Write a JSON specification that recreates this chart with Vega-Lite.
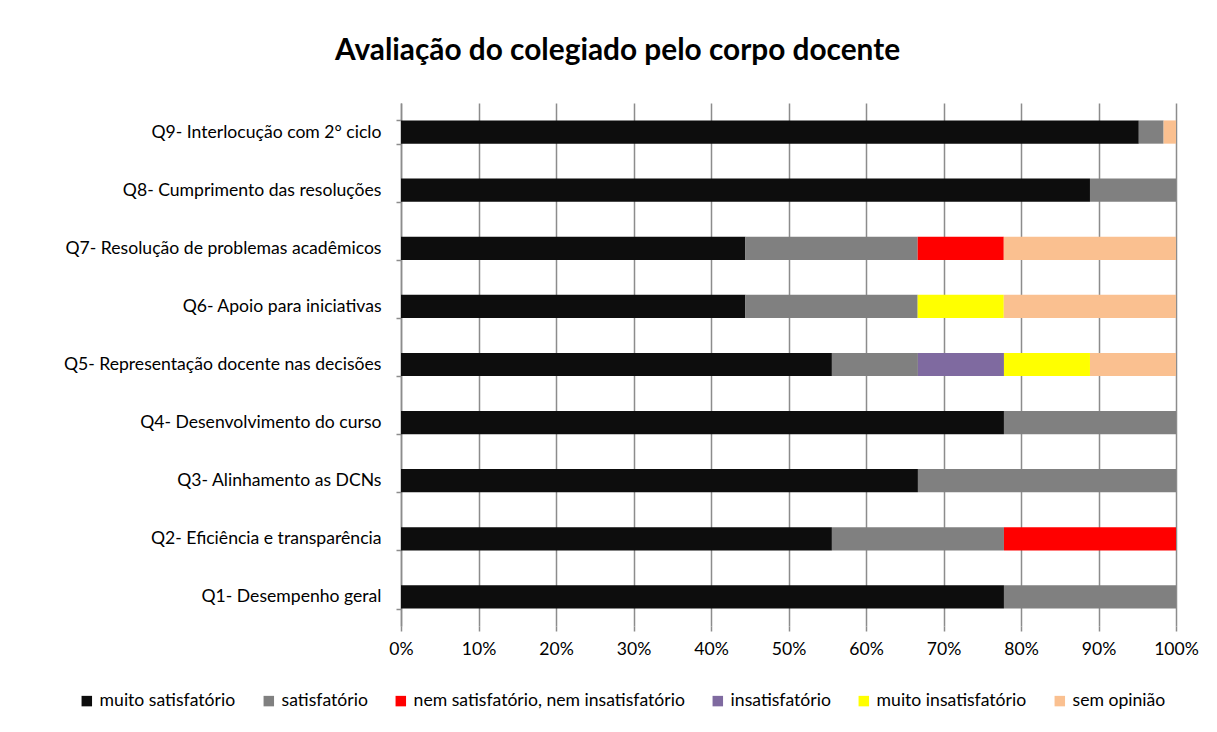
{
  "$schema": "https://vega.github.io/schema/vega-lite/v6.json",
  "autosize": "none",
  "width": 775,
  "height": 523,
  "padding": {"left": 401, "top": 103, "right": 41, "bottom": 106},
  "background": "white",
  "title": {
    "text": "Avaliação do colegiado pelo corpo docente",
    "font": "Lato",
    "fontSize": 29.8,
    "fontWeight": "bold",
    "color": "#000000",
    "anchor": "middle",
    "dx": -171,
    "offset": 28
  },
  "data": {
    "values": [
      {"q": "Q1- Desempenho geral", "r": "muito satisfatório", "k": 1, "v": 77.8},
      {"q": "Q1- Desempenho geral", "r": "satisfatório", "k": 2, "v": 22.2},
      {"q": "Q2- Eficiência e transparência", "r": "muito satisfatório", "k": 1, "v": 55.6},
      {"q": "Q2- Eficiência e transparência", "r": "satisfatório", "k": 2, "v": 22.2},
      {"q": "Q2- Eficiência e transparência", "r": "nem satisfatório, nem insatisfatório", "k": 3, "v": 22.2},
      {"q": "Q3- Alinhamento as DCNs", "r": "muito satisfatório", "k": 1, "v": 66.7},
      {"q": "Q3- Alinhamento as DCNs", "r": "satisfatório", "k": 2, "v": 33.3},
      {"q": "Q4- Desenvolvimento do curso", "r": "muito satisfatório", "k": 1, "v": 77.8},
      {"q": "Q4- Desenvolvimento do curso", "r": "satisfatório", "k": 2, "v": 22.2},
      {"q": "Q5- Representação docente nas decisões", "r": "muito satisfatório", "k": 1, "v": 55.6},
      {"q": "Q5- Representação docente nas decisões", "r": "satisfatório", "k": 2, "v": 11.1},
      {"q": "Q5- Representação docente nas decisões", "r": "insatisfatório", "k": 4, "v": 11.1},
      {"q": "Q5- Representação docente nas decisões", "r": "muito insatisfatório", "k": 5, "v": 11.1},
      {"q": "Q5- Representação docente nas decisões", "r": "sem opinião", "k": 6, "v": 11.1},
      {"q": "Q6- Apoio para iniciativas", "r": "muito satisfatório", "k": 1, "v": 44.4},
      {"q": "Q6- Apoio para iniciativas", "r": "satisfatório", "k": 2, "v": 22.2},
      {"q": "Q6- Apoio para iniciativas", "r": "muito insatisfatório", "k": 5, "v": 11.1},
      {"q": "Q6- Apoio para iniciativas", "r": "sem opinião", "k": 6, "v": 22.2},
      {"q": "Q7- Resolução de problemas acadêmicos", "r": "muito satisfatório", "k": 1, "v": 44.4},
      {"q": "Q7- Resolução de problemas acadêmicos", "r": "satisfatório", "k": 2, "v": 22.2},
      {"q": "Q7- Resolução de problemas acadêmicos", "r": "nem satisfatório, nem insatisfatório", "k": 3, "v": 11.1},
      {"q": "Q7- Resolução de problemas acadêmicos", "r": "sem opinião", "k": 6, "v": 22.2},
      {"q": "Q8- Cumprimento das resoluções", "r": "muito satisfatório", "k": 1, "v": 88.9},
      {"q": "Q8- Cumprimento das resoluções", "r": "satisfatório", "k": 2, "v": 11.1},
      {"q": "Q9- Interlocução com 2° ciclo", "r": "muito satisfatório", "k": 1, "v": 95.2},
      {"q": "Q9- Interlocução com 2° ciclo", "r": "satisfatório", "k": 2, "v": 3.2},
      {"q": "Q9- Interlocução com 2° ciclo", "r": "sem opinião", "k": 6, "v": 1.6}
    ]
  },
  "mark": {"type": "bar"},
  "encoding": {
    "y": {
      "field": "q",
      "type": "nominal",
      "sort": "descending",
      "title": null,
      "scale": {"paddingInner": 0.6, "paddingOuter": 0.3},
      "axis": {
        "tickBand": "extent",
        "tickSize": 5,
        "tickColor": "#8c8c8c",
        "tickWidth": 1.5,
        "domainColor": "#8c8c8c",
        "domainWidth": 1.5,
        "labelPadding": 15,
        "labelFont": "Lato",
        "labelFontSize": 17.6,
        "labelColor": "#000000",
        "labelLimit": 400,
        "grid": false
      }
    },
    "x": {
      "field": "v",
      "type": "quantitative",
      "stack": "normalize",
      "title": null,
      "scale": {"domain": [0, 1], "nice": false},
      "axis": {
        "values": [0, 0.1, 0.2, 0.3, 0.4, 0.5, 0.6, 0.7, 0.8, 0.9, 1],
        "format": ".0%",
        "grid": true,
        "gridColor": "#8c8c8c",
        "gridWidth": 1.5,
        "domain": false,
        "tickSize": 5,
        "tickColor": "#8c8c8c",
        "tickWidth": 1.5,
        "labelPadding": 9,
        "labelFont": "Lato",
        "labelFontSize": 17.6,
        "labelColor": "#000000",
        "labelFlush": false
      }
    },
    "color": {
      "field": "r",
      "type": "nominal",
      "title": null,
      "scale": {
        "domain": ["muito satisfatório", "satisfatório", "nem satisfatório, nem insatisfatório", "insatisfatório", "muito insatisfatório", "sem opinião"],
        "range": ["#0d0d0d", "#808080", "#ff0000", "#7f6aa0", "#ffff00", "#fac090"]
      },
      "legend": {
        "orient": "none",
        "legendX": -323,
        "legendY": 589,
        "direction": "horizontal",
        "columns": 6,
        "symbolType": "square",
        "symbolSize": 110,
        "symbolStrokeWidth": 0,
        "labelFont": "Lato",
        "labelFontSize": 17.6,
        "labelColor": "#000000",
        "labelOffset": 4,
        "columnPadding": 24,
        "labelLimit": 400
      }
    },
    "order": {"field": "k", "type": "quantitative", "sort": "ascending"}
  },
  "config": {"view": {"stroke": null}}
}
